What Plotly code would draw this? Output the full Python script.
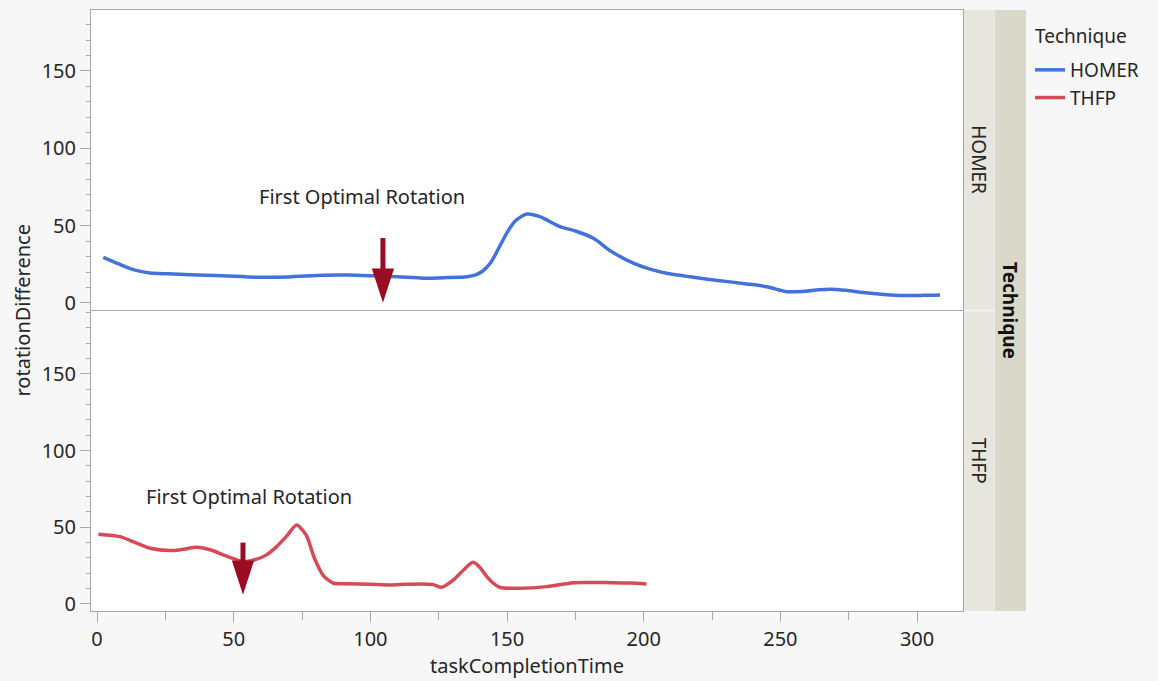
import plotly.graph_objects as go

# ---------------- data ----------------
techniques = ["HOMER", "THFP"]

homer_t = [2.3, 8.0, 13.3, 19.4, 26, 34, 46, 58.4, 70, 82.7, 92, 101, 110, 119.3,
           128, 135.3, 138.5, 141, 144, 147, 150, 153, 157.2, 162, 169.4,
           175, 181.6, 188, 196.2, 202, 208.4, 217, 225.5, 237.7, 245, 252.3,
           258, 264, 268.2, 274, 280.4, 288, 295, 302, 308.4]
homer_rot = [29.5, 25.2, 21.5, 19.3, 18.8, 18.3, 17.6, 16.6, 16.8, 17.9, 18.0, 17.5,
             16.9, 16.0, 16.4, 17.0, 18.2, 20.5, 26, 35.5, 45.5, 53, 57.5, 55.8,
             49.3, 46.5, 41.8, 33.5, 25.7, 22, 19.2, 16.9, 14.9, 12.3, 10.5, 7.3,
             7.4, 8.5, 8.9, 8.2, 6.7, 5.5, 4.8, 4.9, 5.2]

thfp_t = [0.5, 8.4, 14, 19.4, 26.7, 31, 36.5, 42, 46.2, 50, 53.5, 58.4, 62, 65.7,
          69.5, 73, 76.5, 79.5, 82.8, 86.5, 91.4, 100, 107.2, 113, 118.2, 123, 126.1,
          130.4, 134, 137.5, 140, 142.6, 145, 147.5, 154.8, 164.5, 174.3, 182,
          188.9, 195, 201]
thfp_rot = [45.5, 43.9, 40, 36.3, 34.8, 35.5, 37.0, 35, 32.0, 29.5, 27.6, 29.2, 32,
            37.4, 44.5, 51.5, 45, 30, 18.5, 13.5, 13.2, 12.8, 12.4, 12.8, 13.0,
            12.6, 10.9, 15.7, 22, 27.2, 24, 17.8, 13.5, 10.7, 10.2, 11.3, 13.9,
            14.0, 13.9, 13.6, 13.0]

x_ticks = [0, 50, 100, 150, 200, 250, 300]
y_ticks = [0, 50, 100, 150]

# annotation "First Optimal Rotation" per panel
note_text = "First Optimal Rotation"
note_x = [97, 55.6]
note_y = [69, 70]
# arrows per panel
arrow_x = [104.6, 53.4]
arrow_tail = [42, 40]
arrow_tip = [0.2, 6]

colors = {"HOMER": "#4472DB", "THFP": "#D64A5A"}
arrow_color = "#9A0B24"
FONT = "Noto Sans"
TXT = "#262626"
GRID = "#A8A8A8"

fig = go.Figure()

series = {"HOMER": (homer_t, homer_rot, "y2"), "THFP": (thfp_t, thfp_rot, "y")}
for tech in techniques:
    t, r, ya = series[tech]
    fig.add_trace(go.Scatter(
        x=t, y=r, mode="lines", name=tech,
        line=dict(color=colors[tech], width=3.5, shape="spline", smoothing=0.7),
        xaxis="x" if ya == "y" else "x2", yaxis=ya, showlegend=True,
    ))

# arrows (shaft + head) and labels
for i, tech in enumerate(techniques):
    ya = "y2" if tech == "HOMER" else "y"
    xa = "x2" if tech == "HOMER" else "x"
    fig.add_trace(go.Scatter(
        x=[arrow_x[i], arrow_x[i]], y=[arrow_tail[i], arrow_tip[i] + 10],
        mode="lines", line=dict(color=arrow_color, width=5),
        xaxis=xa, yaxis=ya, showlegend=False, hoverinfo="skip"))
    fig.add_trace(go.Scatter(
        x=[arrow_x[i]], y=[arrow_tip[i]], mode="markers",
        marker=dict(symbol="arrow", angle=180, size=36, color=arrow_color,
                    line=dict(width=0)),
        xaxis=xa, yaxis=ya, showlegend=False, hoverinfo="skip"))
    fig.add_annotation(x=note_x[i], y=note_y[i], xref=xa, yref=ya,
                       xanchor="center", yanchor="middle",
                       text=note_text, showarrow=False,
                       font=dict(family=FONT, size=20, color=TXT))

axis_common = dict(showline=True, linecolor=GRID, linewidth=1, mirror=True,
                   showgrid=False, zeroline=False)

yaxis_common = dict(tickmode="array", tickvals=y_ticks, ticks="outside", ticklen=10,
                    tickcolor=GRID,
                    minor=dict(dtick=10, ticks="outside", ticklen=4, tickcolor=GRID),
                    tickfont=dict(size=20, color=TXT))

plot_w = 872.0
plot_h = 601.0

fig.update_layout(
    width=1158, height=681,
    margin=dict(l=91, r=195, t=10, b=70),
    paper_bgcolor="#F7F7F7", plot_bgcolor="#FFFFFF",
    font=dict(family=FONT, size=19, color=TXT),
    xaxis=dict(**axis_common, anchor="y", domain=[0, 1], range=[-2.2, 316.8],
               tickmode="array", tickvals=x_ticks, ticks="outside", ticklen=10,
               tickcolor=GRID,
               minor=dict(dtick=25, ticks="outside", ticklen=8, tickcolor=GRID),
               tickfont=dict(size=20, color=TXT),
               title=dict(text="taskCompletionTime", font=dict(size=20, color=TXT),
                          standoff=5)),
    xaxis2=dict(**axis_common, anchor="y2", domain=[0, 1], range=[-2.2, 316.8],
                matches="x", showticklabels=False, ticks=""),
    yaxis=dict(**axis_common, **yaxis_common, anchor="x", domain=[0, 0.499],
               range=[-4.6, 191]),
    yaxis2=dict(**axis_common, **yaxis_common, anchor="x2", domain=[0.501, 1],
                range=[-4.5, 189.4]),
    legend=dict(x=(1030 - 91) / plot_w, y=(611 - 51) / plot_h,
                xanchor="left", yanchor="top",
                bgcolor="rgba(0,0,0,0)",
                font=dict(size=19, color=TXT), itemwidth=30, tracegroupgap=0),
    showlegend=True,
)

# legend title as text
fig.add_annotation(x=(1033 - 91) / plot_w, y=(611 - 36) / plot_h, xref="paper",
                   yref="paper", xanchor="left", yanchor="middle",
                   text="Technique", showarrow=False,
                   font=dict(family=FONT, size=19, color=TXT))

# y axis title
fig.add_annotation(x=(22 - 91) / plot_w, y=0.5, xref="paper", yref="paper",
                   xanchor="center", yanchor="middle", text="rotationDifference",
                   textangle=-90, showarrow=False,
                   font=dict(family=FONT, size=20, color=TXT))

# facet strips
s1_x1 = 1 + 32 / plot_w
s2_x1 = 1 + 63 / plot_w
fig.add_shape(type="rect", xref="paper", yref="paper", x0=1, x1=s1_x1, y0=0.501, y1=1,
              fillcolor="#E6E6DE", line=dict(width=0.8, color="#F0F0EC"), layer="below")
fig.add_shape(type="rect", xref="paper", yref="paper", x0=1, x1=s1_x1, y0=0, y1=0.499,
              fillcolor="#E6E6DE", line=dict(width=0.8, color="#F0F0EC"), layer="below")
fig.add_shape(type="rect", xref="paper", yref="paper", x0=s1_x1, x1=s2_x1, y0=0, y1=1,
              fillcolor="#DAD8C9", line=dict(width=0), layer="below")
fig.add_annotation(x=(1 + s1_x1) / 2, y=0.75, xref="paper", yref="paper",
                   xanchor="center", yanchor="middle",
                   text="HOMER", textangle=90, showarrow=False,
                   font=dict(family=FONT, size=19, color=TXT))
fig.add_annotation(x=(1 + s1_x1) / 2, y=0.25, xref="paper", yref="paper",
                   xanchor="center", yanchor="middle",
                   text="THFP", textangle=90, showarrow=False,
                   font=dict(family=FONT, size=19, color=TXT))
fig.add_annotation(x=(s1_x1 + s2_x1) / 2, y=0.5, xref="paper", yref="paper",
                   xanchor="center", yanchor="middle",
                   text="<b>Technique</b>", textangle=90, showarrow=False,
                   font=dict(family=FONT, size=19, color="#111111"))

fig.write_html("out.html")
